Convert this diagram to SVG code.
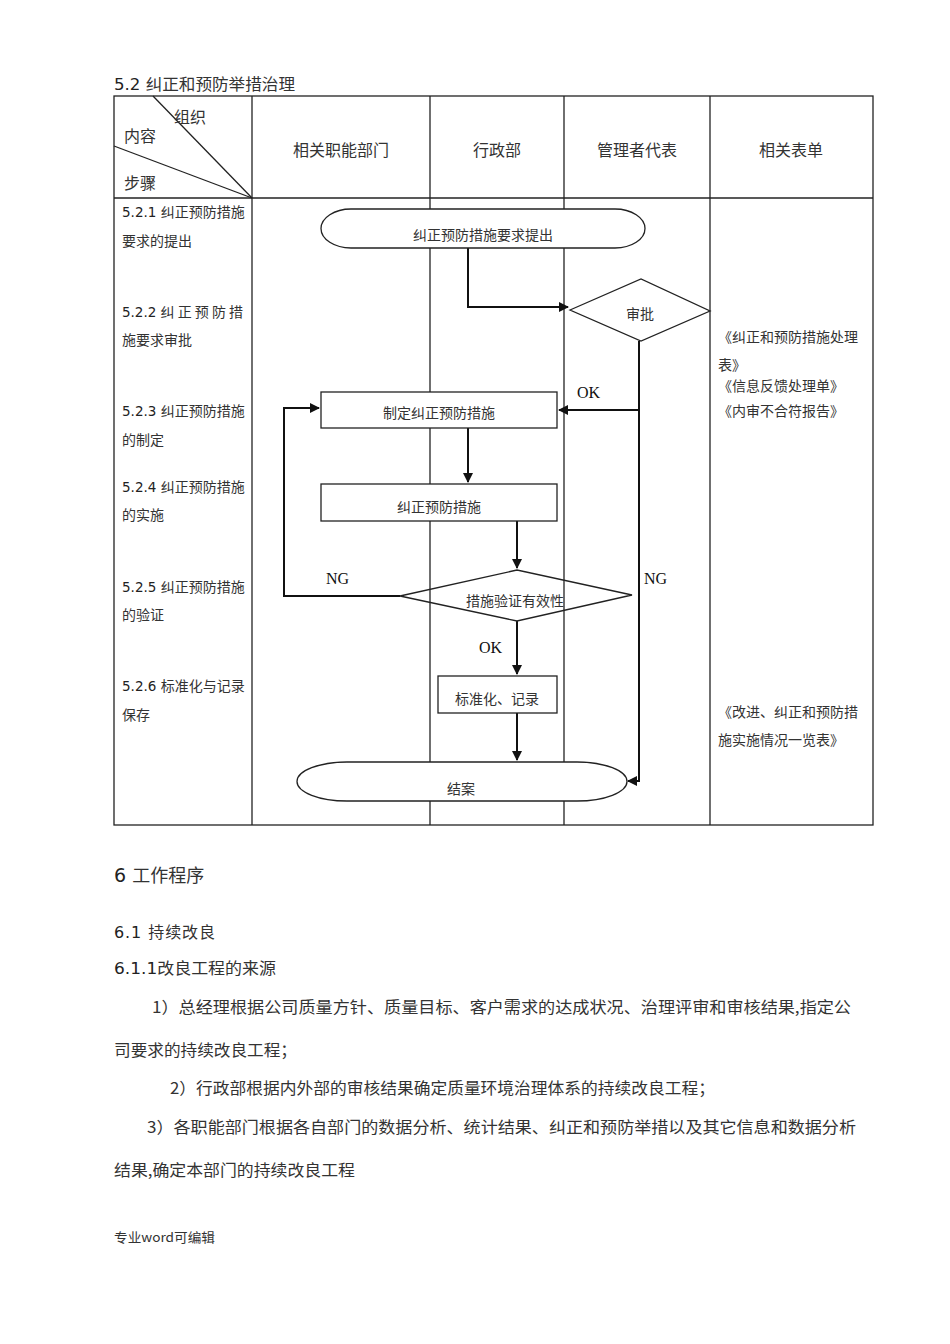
<svg xmlns="http://www.w3.org/2000/svg" width="950" height="1344" viewBox="0 0 950 1344">
<defs>
<style>
.t{font-family:"DejaVu Sans","Noto Sans CJK SC",sans-serif;fill:#222}
.s{font-family:"Noto Sans CJK SC",sans-serif;fill:#333}
.lb{font-family:"Liberation Serif","Noto Sans CJK SC",serif;fill:#111}
.ln{stroke:#222;stroke-width:1.3;fill:none}
.sh{stroke:#222;stroke-width:1.3;fill:#fff}
.cn{stroke:#111;stroke-width:2;fill:none}
</style>
<marker id="ah" viewBox="0 0 10 10" refX="9" refY="5" markerWidth="10" markerHeight="10" markerUnits="userSpaceOnUse" orient="auto">
<path d="M0,0 L10,5 L0,10 z" fill="#111"/>
</marker>
</defs>
<rect width="950" height="1344" fill="#fff"/>

<text class="t" x="114" y="90" font-size="16" textLength="181" lengthAdjust="spacingAndGlyphs">5.2 <tspan class="s" font-size="16">纠正和预防举措治理</tspan></text>

<g id="table">
<rect class="ln" x="114" y="96" width="759" height="729"/>
<line class="ln" x1="114" y1="198" x2="873" y2="198"/>
<line class="ln" x1="252" y1="96" x2="252" y2="825"/>
<line class="ln" x1="430" y1="96" x2="430" y2="825"/>
<line class="ln" x1="564" y1="96" x2="564" y2="825"/>
<line class="ln" x1="710" y1="96" x2="710" y2="825"/>
<line class="ln" x1="153" y1="96" x2="252" y2="198"/>
<line class="ln" x1="114" y1="146" x2="252" y2="198"/>
<text class="s" x="174" y="123" font-size="16">组织</text>
<text class="s" x="124" y="142" font-size="16">内容</text>
<text class="s" x="124" y="189" font-size="16">步骤</text>
<text class="s" x="341" y="156" font-size="16" text-anchor="middle">相关职能部门</text>
<text class="s" x="497" y="156" font-size="16" text-anchor="middle">行政部</text>
<text class="s" x="637" y="156" font-size="16" text-anchor="middle">管理者代表</text>
<text class="s" x="791" y="156" font-size="16" text-anchor="middle">相关表单</text>
</g>

<g id="steps" font-size="14">
<text class="t" x="122" y="217" font-size="13.5">5.2.1 <tspan class="s" font-size="14">纠正预防措施</tspan></text>
<text class="s" x="122" y="246">要求的提出</text>
<text class="t" x="122" y="317" font-size="13.5" textLength="121" lengthAdjust="spacing">5.2.2  <tspan class="s" font-size="14">纠 正 预 防 措</tspan></text>
<text class="s" x="122" y="345">施要求审批</text>
<text class="t" x="122" y="416" font-size="13.5">5.2.3 <tspan class="s" font-size="14">纠正预防措施</tspan></text>
<text class="s" x="122" y="445">的制定</text>
<text class="t" x="122" y="492" font-size="13.5">5.2.4 <tspan class="s" font-size="14">纠正预防措施</tspan></text>
<text class="s" x="122" y="520">的实施</text>
<text class="t" x="122" y="592" font-size="13.5">5.2.5 <tspan class="s" font-size="14">纠正预防措施</tspan></text>
<text class="s" x="122" y="620">的验证</text>
<text class="t" x="122" y="691" font-size="13.5">5.2.6 <tspan class="s" font-size="14">标准化与记录</tspan></text>
<text class="s" x="122" y="720">保存</text>
</g>

<g id="forms" font-size="14">
<text class="s" x="718" y="342">《纠正和预防措施处理</text>
<text class="s" x="718" y="370">表》</text>
<text class="s" x="718" y="391">《信息反馈处理单》</text>
<text class="s" x="718" y="416">《内审不合符报告》</text>
<text class="s" x="718" y="717">《改进、纠正和预防措</text>
<text class="s" x="718" y="745">施实施情况一览表》</text>
</g>

<g id="connectors">
<polyline class="cn" points="468,248 468,307 568,307" marker-end="url(#ah)"/>
<polyline class="cn" points="639,341 639,410 559,410" marker-end="url(#ah)"/>
<polyline class="cn" points="639,410 639,781 628,781" marker-end="url(#ah)"/>
<line class="cn" x1="468" y1="428" x2="468" y2="482" marker-end="url(#ah)"/>
<line class="cn" x1="517" y1="521" x2="517" y2="568" marker-end="url(#ah)"/>
<polyline class="cn" points="400,596 284,596 284,408 319,408" marker-end="url(#ah)"/>
<line class="cn" x1="517" y1="621" x2="517" y2="674" marker-end="url(#ah)"/>
<line class="cn" x1="517" y1="713" x2="517" y2="760" marker-end="url(#ah)"/>
<text class="lb" x="577" y="398" font-size="16">OK</text>
<text class="lb" x="644" y="584" font-size="16">NG</text>
<text class="lb" x="326" y="584" font-size="16">NG</text>
<text class="lb" x="479" y="653" font-size="16">OK</text>
</g>

<g id="n-start">
<rect class="sh" x="321" y="209" width="324" height="39" rx="30" ry="19.5"/>
<text class="s" x="483" y="240" font-size="14" text-anchor="middle">纠正预防措施要求提出</text>
</g>
<g id="n-approve">
<polygon class="sh" points="570,310 641,279 710,311 641,341"/>
<text class="s" x="640" y="319" font-size="14" text-anchor="middle">审批</text>
</g>
<g id="n-plan">
<rect class="sh" x="321" y="392" width="236" height="36"/>
<text class="s" x="439" y="418" font-size="14" text-anchor="middle">制定纠正预防措施</text>
</g>
<g id="n-do">
<rect class="sh" x="321" y="484" width="236" height="37"/>
<text class="s" x="439" y="512" font-size="14" text-anchor="middle">纠正预防措施</text>
</g>
<g id="n-verify">
<polygon class="ln" points="400,596 517,570 632,595 517,621"/>
<text class="s" x="515" y="606" font-size="14" text-anchor="middle">措施验证有效性</text>
</g>
<g id="n-std">
<rect class="sh" x="438" y="676" width="119" height="37"/>
<text class="s" x="497" y="704" font-size="14" text-anchor="middle">标准化、记录</text>
</g>
<g id="n-end">
<rect class="sh" x="297" y="762" width="330" height="39" rx="50" ry="19.5"/>
<text class="s" x="461" y="794" font-size="14" text-anchor="middle">结案</text>
</g>

<g id="body">
<text class="t" x="114" y="882" font-size="19">6 <tspan class="s" font-size="18">工作程序</tspan></text>
<text class="t" x="114" y="938" font-size="16" textLength="101" lengthAdjust="spacing">6.1  <tspan class="s">持续改良</tspan></text>
<text class="t" x="114" y="974" font-size="16" textLength="162" lengthAdjust="spacingAndGlyphs">6.1.1<tspan class="s">改良工程的来源</tspan></text>
<text class="s" x="152" y="1013" font-size="16" textLength="699" lengthAdjust="spacingAndGlyphs">1）总经理根据公司质量方针、质量目标、客户需求的达成状况、治理评审和审核结果,指定公</text>
<text class="s" x="114" y="1056" font-size="16" textLength="183" lengthAdjust="spacingAndGlyphs">司要求的持续改良工程；</text>
<text class="s" x="170" y="1094" font-size="16" textLength="545" lengthAdjust="spacingAndGlyphs">2）行政部根据内外部的审核结果确定质量环境治理体系的持续改良工程；</text>
<text class="s" x="147" y="1133" font-size="16" textLength="709" lengthAdjust="spacingAndGlyphs">3）各职能部门根据各自部门的数据分析、统计结果、纠正和预防举措以及其它信息和数据分析</text>
<text class="s" x="114" y="1176" font-size="16" textLength="241" lengthAdjust="spacingAndGlyphs">结果,确定本部门的持续改良工程</text>
<text class="s" x="114" y="1242" font-size="13" textLength="101" lengthAdjust="spacingAndGlyphs">专业word可编辑</text>
</g>
</svg>
